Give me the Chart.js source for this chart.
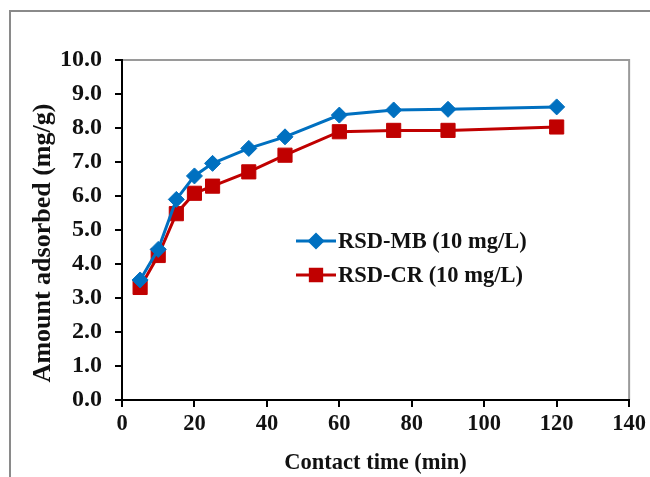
<!DOCTYPE html>
<html>
<head>
<meta charset="utf-8">
<script src="https://cdn.jsdelivr.net/npm/chart.js@4/dist/chart.umd.min.js"></script>
<style>
  html, body { margin: 0; padding: 0; background: #fff; }
  #wrap { width: 650px; height: 477px; }
</style>
</head>
<body>
<div id="wrap"><canvas id="kinetics" width="650" height="477"></canvas></div>
<script>
// contact time (min)
const times = [5, 10, 15, 20, 25, 35, 45, 60, 75, 90, 120];
// amount adsorbed (mg/g)
const mbValues = [3.53, 4.43, 5.9, 6.59, 6.96, 7.4, 7.74, 8.38, 8.53, 8.55, 8.62];
const crValues = [3.31, 4.25, 5.48, 6.08, 6.29, 6.71, 7.2, 7.89, 7.93, 7.93, 8.03];
const seriesNames = ['RSD-MB (10 mg/L)', 'RSD-CR (10 mg/L)'];

const serif = "'Liberation Serif', 'Times New Roman', serif";

function toPoints(xs, ys) {
    return xs.map((x, i) => ({ x: x, y: ys[i] }));
}

// frame round the figure and grey border on top/right of the plot
const framePlugin = {
    id: 'frame',
    beforeDraw(chart) {
        const ctx = chart.ctx;
        const a = chart.chartArea;
        ctx.save();
        ctx.fillStyle = '#fff';
        ctx.fillRect(0, 0, chart.width, chart.height);
        ctx.strokeStyle = '#8a8a8a';
        ctx.lineWidth = 2;
        ctx.beginPath();
        ctx.moveTo(10, chart.height);
        ctx.lineTo(10, 11);
        ctx.lineTo(chart.width, 11);
        ctx.stroke();
        ctx.strokeStyle = '#9a9a9a';
        ctx.beginPath();
        ctx.moveTo(a.left, a.top);
        ctx.lineTo(a.right, a.top);
        ctx.lineTo(a.right, a.bottom);
        ctx.stroke();
        ctx.restore();
    }
};

// legend drawn inside the plot area
const innerLegend = {
    id: 'innerLegend',
    afterDatasetsDraw(chart) {
        const ctx = chart.ctx;
        const rows = [241, 275];
        const sizes = [6.5, 8];
        ctx.save();
        chart.data.datasets.forEach((ds, i) => {
            const y = rows[i];
            ctx.strokeStyle = ds.borderColor;
            ctx.lineWidth = 3;
            ctx.beginPath();
            ctx.moveTo(296, y);
            ctx.lineTo(336, y);
            ctx.stroke();
            ctx.fillStyle = ds.backgroundColor;
            ctx.strokeStyle = ds.borderColor;
            Chart.helpers.drawPoint(ctx, {
                pointStyle: ds.pointStyle,
                radius: sizes[i],
                borderWidth: 1,
                rotation: 0
            }, 316, y);
            ctx.fillStyle = '#111';
            ctx.font = 'bold 22.5px ' + serif;
            ctx.textBaseline = 'middle';
            ctx.textAlign = 'left';
            ctx.fillText(ds.label, 338, y + 1);
        });
        ctx.restore();
    }
};

const ctx = document.getElementById('kinetics').getContext('2d');
new Chart(ctx, {
    type: 'line',
    data: {
        datasets: [{
            label: seriesNames[0],
            data: toPoints(times, mbValues),
            borderColor: '#0070C0',
            backgroundColor: '#0070C0',
            borderWidth: 3,
            pointStyle: 'rectRot',
            pointRadius: 8,
            pointBorderWidth: 1,
            tension: 0
        }, {
            label: seriesNames[1],
            data: toPoints(times, crValues),
            borderColor: '#C00000',
            backgroundColor: '#C00000',
            borderWidth: 3,
            pointStyle: 'rect',
            pointRadius: 10,
            pointBorderWidth: 1,
            tension: 0
        }]
    },
    options: {
        responsive: false,
        animation: false,
        layout: { padding: { left: 10, right: 20, top: 60, bottom: 0 } },
        plugins: {
            legend: { display: false },
            tooltip: { enabled: false }
        },
        scales: {
            x: {
                type: 'linear',
                min: 0,
                max: 140,
                ticks: {
                    stepSize: 20,
                    color: '#111',
                    padding: 4,
                    font: { family: serif, size: 22.5, weight: 'bold' }
                },
                grid: {
                    drawOnChartArea: false,
                    color: '#000',
                    lineWidth: 2,
                    tickLength: 7
                },
                border: { color: '#000', width: 2 },
                title: {
                    display: true,
                    text: 'Contact time (min)',
                    color: '#111',
                    padding: { top: 0, bottom: 0 },
                    font: { family: serif, size: 22.5, weight: 'bold' }
                },
                afterFit(scale) { scale.height = 77; }
            },
            y: {
                min: 0,
                max: 10,
                ticks: {
                    stepSize: 1,
                    color: '#111',
                    padding: 13,
                    font: { family: serif, size: 24, weight: 'bold' },
                    callback: v => v.toFixed(1)
                },
                grid: {
                    drawOnChartArea: false,
                    color: '#000',
                    lineWidth: 2,
                    tickLength: 7
                },
                border: { color: '#000', width: 2 },
                title: {
                    display: true,
                    text: 'Amount adsorbed (mg/g)    ',
                    color: '#111',
                    padding: { top: 18, bottom: 0 },
                    font: { family: serif, size: 26, weight: 'bold' }
                },
                afterFit(scale) { scale.width = 112; }
            }
        }
    },
    plugins: [framePlugin, innerLegend]
});
</script>
</body>
</html>
